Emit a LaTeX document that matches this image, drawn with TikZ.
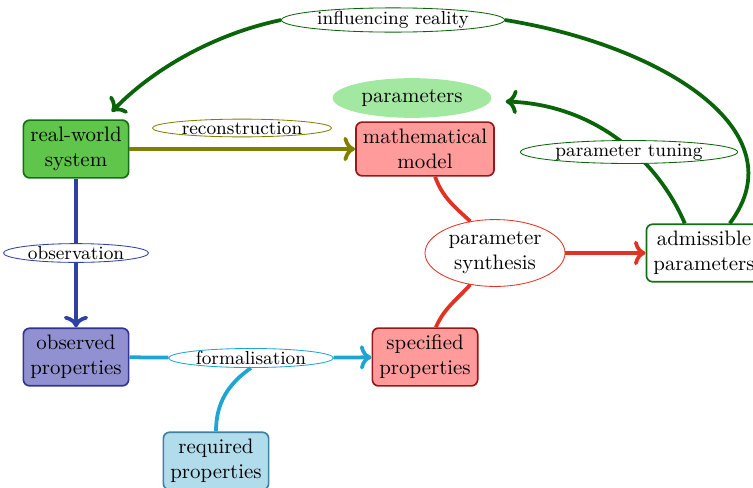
\documentclass[tikz,border=0pt]{standalone}
\usetikzlibrary{shapes.geometric,arrows.meta}
\definecolor{rwfill}{HTML}{5FC54B}
\definecolor{rwdraw}{HTML}{146E14}
\definecolor{mmfill}{HTML}{FF9B9B}
\definecolor{mmdraw}{HTML}{961919}
\definecolor{parfill}{HTML}{A3E8A0}
\definecolor{obsfill}{HTML}{9191D2}
\definecolor{obsdraw}{HTML}{323296}
\definecolor{reqfill}{HTML}{B0DCEC}
\definecolor{reqdraw}{HTML}{3C82A0}
\definecolor{infcol}{HTML}{0A640A}
\definecolor{reccol}{HTML}{808000}
\definecolor{obscol}{HTML}{3040A0}
\definecolor{forcol}{HTML}{1EA5D2}
\definecolor{syncol}{HTML}{E13223}
\begin{document}
\begin{tikzpicture}[x=0.4785pt,y=-0.4785pt,
  box/.style={draw, rounded corners=3pt, thick, align=center, inner sep=3.33pt},
  lab/.style={ellipse, draw, fill=white, text=black, line width=0.4pt, font=\small, inner xsep=1.5pt, inner ysep=0pt},
  conn/.style={line width=1.8pt}]
\useasboundingbox (0,0) rectangle (753,487);
\clip (0,0) rectangle (753,487);
% main nodes
\node[box, fill=rwfill, draw=rwdraw] (rws) at (76,149) {real-world\\system};
\node[box, fill=mmfill, draw=mmdraw] (mm) at (425,149) {mathematical\\model};
\node[ellipse, fill=parfill, minimum width=76pt, minimum height=19pt, inner sep=0pt] (par) at (412,98) {parameters};
\node[box, fill=obsfill, draw=obsdraw] (obs) at (76,357) {observed\\properties};
\node[box, fill=mmfill, draw=mmdraw] (spec) at (425,357) {specified\\properties};
\node[box, fill=reqfill, draw=reqdraw] (req) at (216,461) {required\\properties};
\node[ellipse, draw=syncol, fill=white, align=center, minimum width=67pt, minimum height=32pt, inner sep=0pt] (syn) at (495,253) {parameter\\synthesis};
\node[box, fill=white, draw=rwdraw] (adm) at (704,253) {admissible\\parameters};
% labels
\node[lab, draw=infcol] (inf) at (393,20) {influencing reality};
\node[lab, draw=reccol] (rec) at (242,128) {reconstruction};
\node[lab, draw=obscol] (obl) at (76,253) {observation};
\node[lab, draw=forcol] (for) at (251,358) {formalisation};
% edges
\draw[conn, infcol] (adm.49) .. controls (800,130) and (660,45) .. (inf.east);
\draw[conn, infcol, ->, shorten >=5pt] (inf.west) .. controls (210,35) and (150,72) .. (rws);
\draw[conn, reccol, ->] (rws) -- (mm);
\draw[conn, obscol, ->] (rws) -- (obl) -- (obs);
\draw[conn, forcol, ->] (obs) -- (for) -- (spec);
\draw[conn, forcol] (req.north) to[out=90, in=-145] (for.south);
\draw[conn, syncol] (mm.-70) to[out=-70, in=137] (syn.128);
\draw[conn, syncol] (spec.70) to[out=66, in=-132] (syn.-128);
\draw[conn, syncol, ->] (syn) -- (adm);
\draw[conn, infcol, ->, shorten >=7pt] (adm.123) .. controls (660,165) and (600,105) .. (par);
\node[lab, draw=infcol] (tun) at (629,152) {parameter tuning};
\end{tikzpicture}
\end{document}
